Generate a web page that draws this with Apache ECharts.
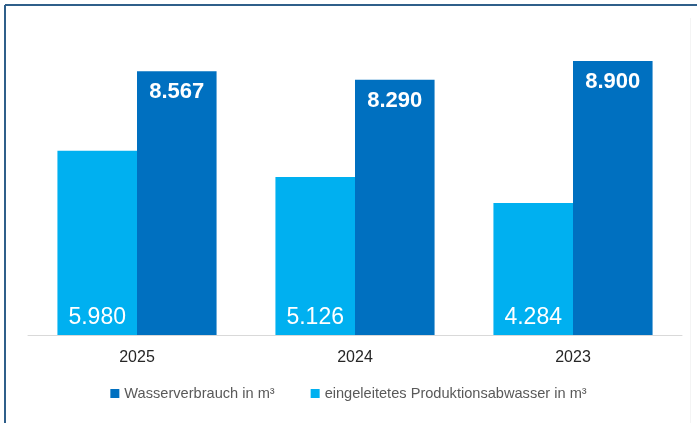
<!DOCTYPE html>
<html>
<head>
<meta charset="utf-8">
<script src="https://cdn.jsdelivr.net/npm/echarts@6/dist/echarts.min.js"></script>
<style>
  html, body { margin: 0; padding: 0; background: #ffffff; }
  #chart { width: 697px; height: 423px; }
</style>
</head>
<body>
<div id="chart"></div>
<script>
// Years shown on the category axis
const years = ['2025', '2024', '2023'];
// Discharged production wastewater in m³
const abwasser = [5980, 5126, 4284];
// Total water consumption in m³
const verbrauch = [8567, 8290, 8900];

const nameVerbrauch = 'Wasserverbrauch in m\u00b3';
const nameAbwasser = 'eingeleitetes Produktionsabwasser in m\u00b3';

// German number format: dot as thousands separator
const fmt = v => v.toLocaleString('de-DE');

const chart = echarts.init(document.getElementById('chart'), null, { renderer: 'canvas' });

chart.setOption({
  animation: false,
  backgroundColor: '#ffffff',
  textStyle: { fontFamily: 'Liberation Sans, Arial, sans-serif' },
  grid: { left: 28, right: 15, top: 27, bottom: 88, containLabel: false },
  legend: {
    data: [nameVerbrauch, nameAbwasser],
    bottom: 17,
    left: 'center',
    itemWidth: 9,
    itemHeight: 9,
    itemGap: 36,
    icon: 'rect',
    textStyle: { color: '#595959', fontSize: 14.6, fontFamily: 'Liberation Sans, Arial, sans-serif' }
  },
  xAxis: {
    type: 'category',
    data: years,
    axisLine: { lineStyle: { color: '#d9d9d9', width: 1 } },
    axisTick: { show: false },
    axisLabel: { color: '#262626', fontSize: 16, margin: 15 }
  },
  yAxis: {
    type: 'value',
    min: 0,
    max: 10000,
    show: false,
    splitLine: { show: false }
  },
  series: [
    {
      name: nameAbwasser,
      type: 'bar',
      data: abwasser,
      barGap: '0%',
      barCategoryGap: '27%',
      itemStyle: { color: '#00B0F0' },
      label: {
        show: true,
        position: 'insideBottom',
        distance: 6,
        color: '#ffffff',
        fontSize: 23,
        formatter: p => fmt(p.value)
      }
    },
    {
      name: nameVerbrauch,
      type: 'bar',
      data: verbrauch,
      barGap: '0%',
      barCategoryGap: '27%',
      itemStyle: { color: '#0070C0' },
      label: {
        show: true,
        position: 'insideTop',
        distance: 10,
        color: '#ffffff',
        fontSize: 22,
        fontWeight: 'bold',
        formatter: p => fmt(p.value)
      }
    }
  ],
  graphic: [
    // frame: dark line on the left and top edge
    { type: 'line', shape: { x1: 5, y1: 5, x2: 697, y2: 5 }, style: { stroke: '#2f5f8a', lineWidth: 2 }, silent: true },
    { type: 'line', shape: { x1: 5, y1: 5, x2: 5, y2: 423 }, style: { stroke: '#2f5f8a', lineWidth: 2 }, silent: true },
    // faint inner border on the right
    { type: 'line', shape: { x1: 690.5, y1: 18, x2: 690.5, y2: 423 }, style: { stroke: '#f4f4f4', lineWidth: 1 }, silent: true }
  ]
});
</script>
</body>
</html>
